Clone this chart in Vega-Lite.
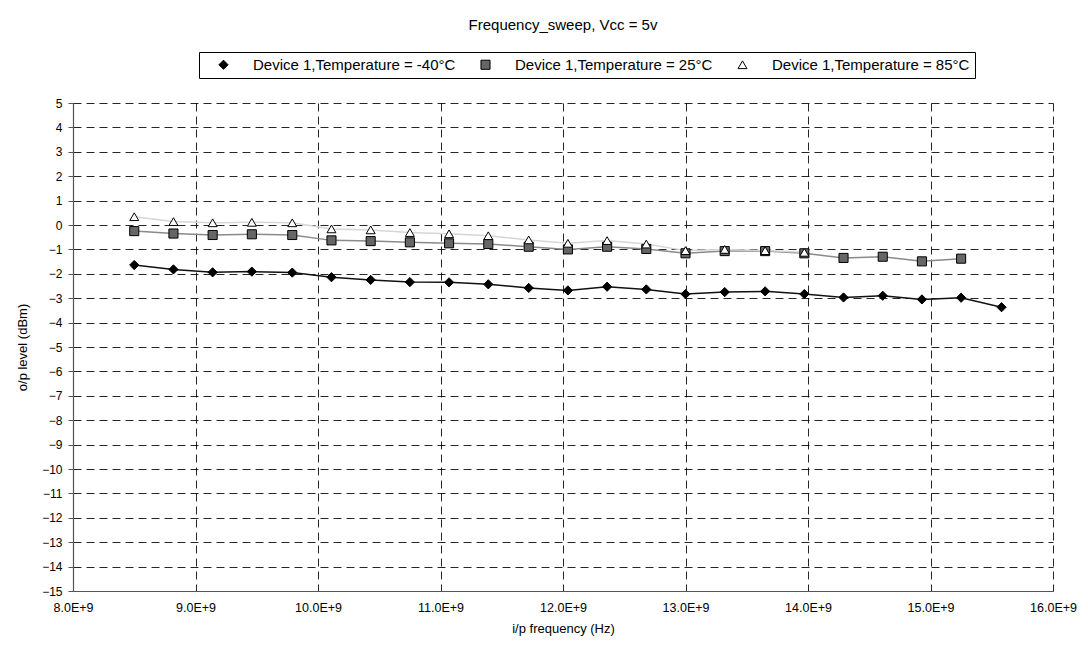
{
  "$schema": "https://vega.github.io/schema/vega-lite/v6.json",
  "width": 980,
  "height": 488,
  "autosize": {"type": "none"},
  "padding": {"left": 73, "top": 103, "right": 35, "bottom": 64},
  "background": "white",
  "config": {
    "font": "Liberation Sans",
    "view": {"stroke": null},
    "axis": {
      "labelFont": "Liberation Sans",
      "titleFont": "Liberation Sans",
      "labelColor": "#000000",
      "titleColor": "#000000",
      "titleFontWeight": "normal",
      "labelFontSize": 12,
      "titleFontSize": 13,
      "grid": true,
      "gridColor": "#000000",
      "gridDash": [8, 5],
      "gridWidth": 1,
      "gridOpacity": 0.85,
      "domainColor": "#555555",
      "domainWidth": 1.2,
      "tickColor": "#555555"
    }
  },
  "title": {
    "text": "Frequency_sweep, Vcc = 5v",
    "font": "Liberation Sans",
    "fontSize": 15,
    "fontWeight": "normal",
    "color": "#000000",
    "anchor": "middle",
    "offset": 19
  },
  "data": {
    "values": [
      {"f": 8.50e9, "v": -1.64, "s": "Device 1,Temperature = -40°C"},
      {"f": 8.82e9, "v": -1.82, "s": "Device 1,Temperature = -40°C"},
      {"f": 9.14e9, "v": -1.94, "s": "Device 1,Temperature = -40°C"},
      {"f": 9.46e9, "v": -1.91, "s": "Device 1,Temperature = -40°C"},
      {"f": 9.79e9, "v": -1.95, "s": "Device 1,Temperature = -40°C"},
      {"f": 10.11e9, "v": -2.14, "s": "Device 1,Temperature = -40°C"},
      {"f": 10.43e9, "v": -2.25, "s": "Device 1,Temperature = -40°C"},
      {"f": 10.75e9, "v": -2.34, "s": "Device 1,Temperature = -40°C"},
      {"f": 11.07e9, "v": -2.35, "s": "Device 1,Temperature = -40°C"},
      {"f": 11.39e9, "v": -2.43, "s": "Device 1,Temperature = -40°C"},
      {"f": 11.72e9, "v": -2.58, "s": "Device 1,Temperature = -40°C"},
      {"f": 12.04e9, "v": -2.68, "s": "Device 1,Temperature = -40°C"},
      {"f": 12.36e9, "v": -2.53, "s": "Device 1,Temperature = -40°C"},
      {"f": 12.68e9, "v": -2.64, "s": "Device 1,Temperature = -40°C"},
      {"f": 13.00e9, "v": -2.83, "s": "Device 1,Temperature = -40°C"},
      {"f": 13.32e9, "v": -2.75, "s": "Device 1,Temperature = -40°C"},
      {"f": 13.65e9, "v": -2.72, "s": "Device 1,Temperature = -40°C"},
      {"f": 13.97e9, "v": -2.83, "s": "Device 1,Temperature = -40°C"},
      {"f": 14.29e9, "v": -2.97, "s": "Device 1,Temperature = -40°C"},
      {"f": 14.61e9, "v": -2.90, "s": "Device 1,Temperature = -40°C"},
      {"f": 14.93e9, "v": -3.05, "s": "Device 1,Temperature = -40°C"},
      {"f": 15.25e9, "v": -2.98, "s": "Device 1,Temperature = -40°C"},
      {"f": 15.58e9, "v": -3.37, "s": "Device 1,Temperature = -40°C"},
      {"f": 8.50e9, "v": -0.25, "s": "Device 1,Temperature = 25°C"},
      {"f": 8.82e9, "v": -0.35, "s": "Device 1,Temperature = 25°C"},
      {"f": 9.14e9, "v": -0.41, "s": "Device 1,Temperature = 25°C"},
      {"f": 9.46e9, "v": -0.38, "s": "Device 1,Temperature = 25°C"},
      {"f": 9.79e9, "v": -0.41, "s": "Device 1,Temperature = 25°C"},
      {"f": 10.11e9, "v": -0.63, "s": "Device 1,Temperature = 25°C"},
      {"f": 10.43e9, "v": -0.66, "s": "Device 1,Temperature = 25°C"},
      {"f": 10.75e9, "v": -0.71, "s": "Device 1,Temperature = 25°C"},
      {"f": 11.07e9, "v": -0.75, "s": "Device 1,Temperature = 25°C"},
      {"f": 11.39e9, "v": -0.78, "s": "Device 1,Temperature = 25°C"},
      {"f": 11.72e9, "v": -0.89, "s": "Device 1,Temperature = 25°C"},
      {"f": 12.04e9, "v": -1.00, "s": "Device 1,Temperature = 25°C"},
      {"f": 12.36e9, "v": -0.89, "s": "Device 1,Temperature = 25°C"},
      {"f": 12.68e9, "v": -0.98, "s": "Device 1,Temperature = 25°C"},
      {"f": 13.00e9, "v": -1.16, "s": "Device 1,Temperature = 25°C"},
      {"f": 13.32e9, "v": -1.07, "s": "Device 1,Temperature = 25°C"},
      {"f": 13.65e9, "v": -1.07, "s": "Device 1,Temperature = 25°C"},
      {"f": 13.97e9, "v": -1.16, "s": "Device 1,Temperature = 25°C"},
      {"f": 14.29e9, "v": -1.35, "s": "Device 1,Temperature = 25°C"},
      {"f": 14.61e9, "v": -1.30, "s": "Device 1,Temperature = 25°C"},
      {"f": 14.93e9, "v": -1.49, "s": "Device 1,Temperature = 25°C"},
      {"f": 15.25e9, "v": -1.38, "s": "Device 1,Temperature = 25°C"},
      {"f": 8.50e9, "v": 0.34, "s": "Device 1,Temperature = 85°C"},
      {"f": 8.82e9, "v": 0.14, "s": "Device 1,Temperature = 85°C"},
      {"f": 9.14e9, "v": 0.09, "s": "Device 1,Temperature = 85°C"},
      {"f": 9.46e9, "v": 0.11, "s": "Device 1,Temperature = 85°C"},
      {"f": 9.79e9, "v": 0.09, "s": "Device 1,Temperature = 85°C"},
      {"f": 10.11e9, "v": -0.16, "s": "Device 1,Temperature = 85°C"},
      {"f": 10.43e9, "v": -0.20, "s": "Device 1,Temperature = 85°C"},
      {"f": 10.75e9, "v": -0.31, "s": "Device 1,Temperature = 85°C"},
      {"f": 11.07e9, "v": -0.36, "s": "Device 1,Temperature = 85°C"},
      {"f": 11.39e9, "v": -0.44, "s": "Device 1,Temperature = 85°C"},
      {"f": 11.72e9, "v": -0.61, "s": "Device 1,Temperature = 85°C"},
      {"f": 12.04e9, "v": -0.75, "s": "Device 1,Temperature = 85°C"},
      {"f": 12.36e9, "v": -0.64, "s": "Device 1,Temperature = 85°C"},
      {"f": 12.68e9, "v": -0.78, "s": "Device 1,Temperature = 85°C"},
      {"f": 13.00e9, "v": -1.05, "s": "Device 1,Temperature = 85°C"},
      {"f": 13.32e9, "v": -1.00, "s": "Device 1,Temperature = 85°C"},
      {"f": 13.65e9, "v": -1.05, "s": "Device 1,Temperature = 85°C"},
      {"f": 13.97e9, "v": -1.12, "s": "Device 1,Temperature = 85°C"}
    ]
  },
  "encoding": {
    "x": {
      "field": "f",
      "type": "quantitative",
      "scale": {"domain": [8e9, 16e9], "nice": false, "zero": false},
      "axis": {
        "title": "i/p frequency (Hz)",
        "values": [8e9, 9e9, 10e9, 11e9, 12e9, 13e9, 14e9, 15e9, 16e9],
        "labelExpr": "format(datum.value / 1e9, '.1f') + 'E+9'",
        "labelFontSize": 12.5,
        "ticks": false,
        "labelPadding": 10,
        "titlePadding": 9,
        "labelFlush": false
      }
    },
    "y": {
      "field": "v",
      "type": "quantitative",
      "scale": {"domain": [-15, 5], "nice": false, "zero": false},
      "axis": {
        "title": "o/p level (dBm)",
        "values": [-15, -14, -13, -12, -11, -10, -9, -8, -7, -6, -5, -4, -3, -2, -1, 0, 1, 2, 3, 4, 5],
        "tickSize": 5,
        "labelPadding": 6,
        "titlePadding": 12,
        "labelFlush": false
      }
    }
  },
  "layer": [
    {
      "mark": {"type": "line", "strokeWidth": 1.5},
      "encoding": {
        "detail": {"field": "s", "type": "nominal"},
        "stroke": {
          "condition": [
            {"test": "datum.s === 'Device 1,Temperature = 25°C'", "value": "#8a8a8a"},
            {"test": "datum.s === 'Device 1,Temperature = 85°C'", "value": "#d6d6d6"}
          ],
          "value": "#111111"
        },
        "order": {"field": "f", "type": "quantitative"}
      }
    },
    {
      "mark": {"type": "point", "filled": true, "opacity": 1, "stroke": "#000000", "strokeWidth": 1},
      "encoding": {
        "shape": {
          "field": "s",
          "type": "nominal",
          "scale": {
            "domain": ["Device 1,Temperature = -40°C", "Device 1,Temperature = 25°C", "Device 1,Temperature = 85°C"],
            "range": ["diamond", "square", "triangle-up"]
          },
          "legend": {
            "title": null,
            "orient": "none",
            "legendX": 126,
            "legendY": -51,
            "direction": "horizontal",
            "padding": 5,
            "strokeColor": "#000000",
            "fillColor": "#ffffff",
            "labelFont": "Liberation Sans",
            "labelFontSize": 15,
            "labelColor": "#000000",
            "labelLimit": 400,
            "symbolOffset": 12,
            "labelOffset": 22,
            "columnPadding": 10,
            "symbolStrokeColor": "#000000",
            "symbolStrokeWidth": 1
          }
        },
        "fill": {
          "field": "s",
          "type": "nominal",
          "scale": {
            "domain": ["Device 1,Temperature = -40°C", "Device 1,Temperature = 25°C", "Device 1,Temperature = 85°C"],
            "range": ["#000000", "#666666", "#ffffff"]
          }
        },
        "size": {
          "field": "s",
          "type": "nominal",
          "scale": {
            "domain": ["Device 1,Temperature = -40°C", "Device 1,Temperature = 25°C", "Device 1,Temperature = 85°C"],
            "range": [85, 80, 55]
          }
        }
      }
    }
  ]
}
